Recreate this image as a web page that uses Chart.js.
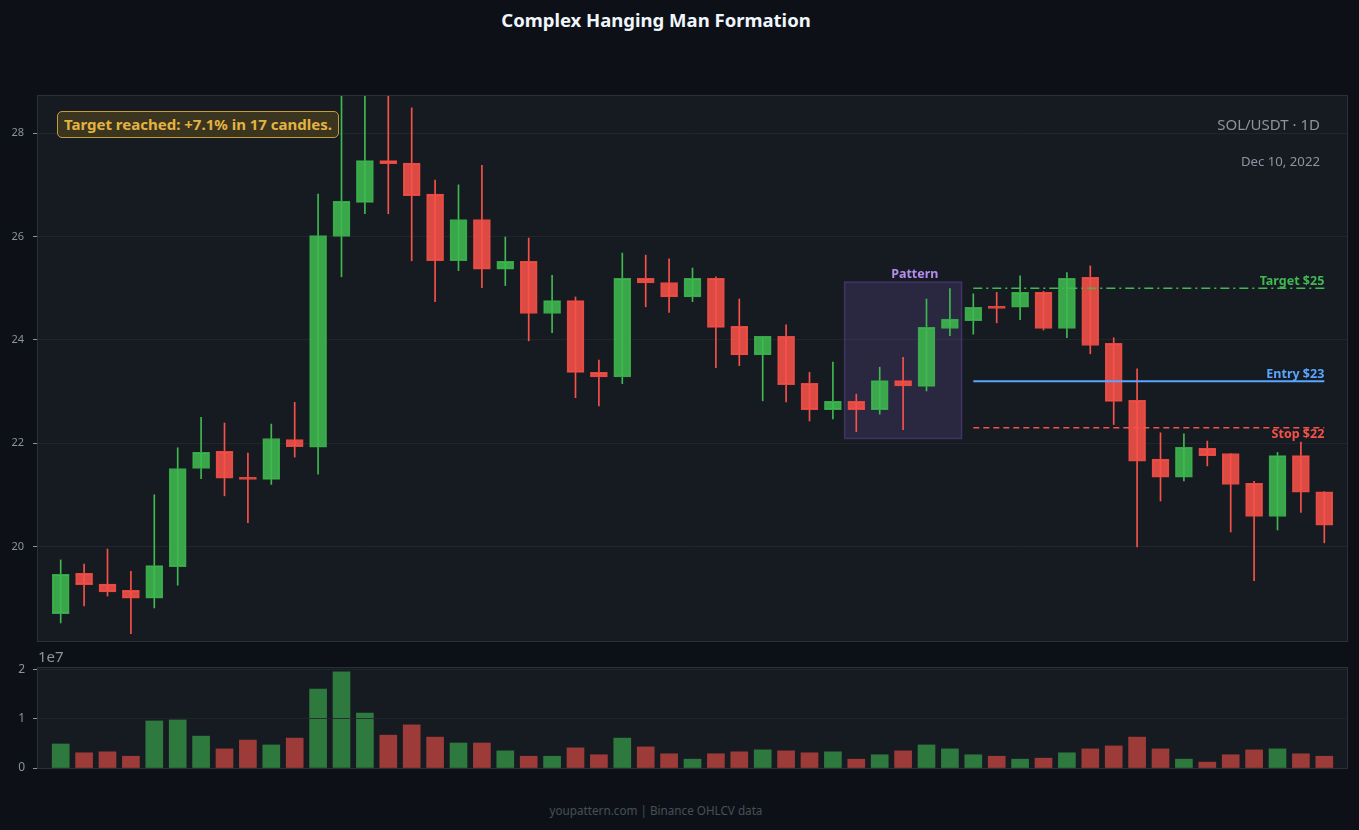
<!DOCTYPE html>
<html>
<head>
<meta charset="utf-8">
<title>Complex Hanging Man Formation</title>
<script src="https://cdn.jsdelivr.net/npm/chart.js@4.4.1/dist/chart.umd.min.js"></script>
<style>
    html, body { margin: 0; padding: 0; background: #0d1117; }
    body { width: 1359px; height: 830px; position: relative; overflow: hidden; font-family: "Noto Sans", sans-serif; }
    .abs { position: absolute; white-space: nowrap; }
    #title { left: 0; width: 1312px; top: 7px; line-height: 26px; text-align: center; color: #f0f6fc; font-weight: bold; font-size: 18.5px; }
    #priceWrap { left: 0; top: 90px; width: 1359px; height: 560px; }
    #volWrap { left: 0; top: 660px; width: 1359px; height: 115px; }
    #reached { left: 57px; top: 111px; width: 282px; height: 27px; box-sizing: border-box; border: 1.5px solid #c29d3c; border-radius: 5px; background: #3b3520; color: #e3b341; font-weight: bold; font-size: 15px; line-height: 24px; text-align: center; }
    #pair { right: 39px; top: 113px; line-height: 22px; font-size: 15px; color: #8b949e; }
    #date { right: 39px; top: 151px; line-height: 20px; font-size: 13.2px; color: #8b949e; }
    #exp { left: 38px; top: 645px; line-height: 22px; font-size: 15px; color: #8b949e; }
    #footer { left: 0; width: 1312px; top: 801px; line-height: 18px; text-align: center; font-size: 11.7px; color: #484f58; }
</style>
</head>
<body>
<div id="title" class="abs">Complex Hanging Man Formation</div>
<div id="priceWrap" class="abs"><canvas id="priceChart"></canvas></div>
<div id="volWrap" class="abs"><canvas id="volChart"></canvas></div>
<div id="reached" class="abs">Target reached: +7.1% in 17 candles.</div>
<div id="pair" class="abs">SOL/USDT · 1D</div>
<div id="date" class="abs">Dec 10, 2022</div>
<div id="exp" class="abs">1e7</div>
<div id="footer" class="abs">youpattern.com | Binance OHLCV data</div>

<script>
// OHLCV per daily candle (index 0..54)
const opens = [18.70, 19.48, 19.27, 19.15, 19.00, 19.61, 21.51, 21.84, 21.34, 21.30,
    22.07, 21.92, 26.00, 26.66, 27.47, 27.42, 26.82, 25.53, 26.33, 25.37,
    25.52, 24.51, 24.76, 23.37, 23.28, 25.19, 25.11, 24.83, 25.19, 24.26,
    23.71, 24.07, 23.16, 22.65, 22.81, 22.65, 23.21, 23.10, 24.22, 24.37,
    24.65, 24.63, 24.92, 24.22, 25.21, 23.93, 22.83, 21.69, 21.34, 21.90,
    21.80, 21.22, 20.58, 21.76, 21.06];
const highs = [19.74, 19.66, 19.95, 19.52, 21.00, 21.91, 22.50, 22.39, 21.81, 22.37,
    22.79, 26.82, 29.00, 28.90, 29.10, 28.49, 27.09, 27.00, 27.38, 25.99,
    25.97, 25.25, 24.83, 23.61, 25.68, 25.64, 25.57, 25.39, 25.22, 24.79,
    24.07, 24.29, 23.37, 23.57, 22.95, 23.47, 23.66, 24.79, 24.99, 24.89,
    24.92, 25.24, 24.94, 25.30, 25.43, 24.04, 23.44, 22.20, 22.18, 22.04,
    21.80, 21.26, 21.82, 22.02, 21.06];
const lows = [18.52, 18.85, 19.04, 18.31, 18.81, 19.25, 21.31, 20.98, 20.46, 21.20,
    21.73, 21.40, 25.22, 26.44, 26.44, 25.53, 24.74, 25.34, 25.01, 25.05,
    23.98, 24.14, 22.88, 22.72, 23.15, 24.64, 24.53, 24.74, 23.46, 23.50,
    22.82, 22.80, 22.43, 22.47, 22.22, 22.56, 22.26, 23.01, 24.08, 24.11,
    24.33, 24.39, 24.19, 24.04, 23.73, 22.36, 19.99, 20.88, 21.27, 21.56,
    20.28, 19.34, 20.32, 20.66, 20.07];
const closes = [19.46, 19.26, 19.12, 19.00, 19.63, 21.51, 21.82, 21.32, 21.30, 22.09,
    21.93, 26.02, 26.68, 27.47, 27.41, 26.79, 25.53, 26.33, 25.37, 25.52,
    24.51, 24.76, 23.37, 23.28, 25.19, 25.10, 24.83, 25.19, 24.24, 23.71,
    24.07, 23.13, 22.65, 22.81, 22.65, 23.21, 23.11, 24.24, 24.40, 24.63,
    24.61, 24.92, 24.22, 25.19, 23.89, 22.81, 21.65, 21.34, 21.92, 21.76,
    21.20, 20.58, 21.76, 21.05, 20.41];
const volumes = [4.9e6, 3.1e6, 3.3e6, 2.4e6, 9.6e6, 9.8e6, 6.5e6, 3.9e6, 5.7e6, 4.7e6,
    6.1e6, 16.1e6, 19.6e6, 11.2e6, 6.7e6, 8.8e6, 6.3e6, 5.1e6, 5.1e6, 3.5e6,
    2.4e6, 2.4e6, 4.1e6, 2.7e6, 6.1e6, 4.3e6, 2.9e6, 1.8e6, 2.9e6, 3.3e6,
    3.7e6, 3.5e6, 3.1e6, 3.3e6, 1.8e6, 2.7e6, 3.5e6, 4.7e6, 3.9e6, 2.7e6,
    2.4e6, 1.8e6, 2.0e6, 3.1e6, 3.9e6, 4.5e6, 6.3e6, 3.9e6, 1.8e6, 1.2e6,
    2.7e6, 3.7e6, 3.9e6, 2.9e6, 2.4e6];

const priceTicks = [20, 22, 24, 26, 28];
const volumeTicks = [0, 1e7, 2e7];

// trade levels drawn from candle 39 to the last candle
const levelLabels = ["Target $25", "Entry $23", "Stop $22"];
const levelValues = [25.0, 23.2, 22.3];
const levelFrom = 39;
const levelTo = 54;

// pattern zone (candles 34..38)
const patternX = [33.5, 38.5];
const patternY = [22.09, 25.12];

const GREEN = "#3fb950";
const RED = "#f85149";
const xMin = -0.97, xMax = 54.97;

function isUp(i) {
    return closes[i] >= opens[i];
}

function withAlpha(hex, a) {
    const n = parseInt(hex.slice(1), 16);
    return "rgba(" + (n >> 16) + "," + ((n >> 8) & 255) + "," + (n & 255) + "," + a + ")";
}

// keep the plot area exactly where the layout padding puts it
function fixAxis(width) {
    return s => {
        s.width = width;
        s.paddingTop = 0;
        s.paddingBottom = 0;
    };
}

const plotFrame = {
    id: "plotFrame",
    beforeDraw(chart) {
        const { ctx, chartArea: a } = chart;
        ctx.save();
        ctx.fillStyle = "#161b22";
        ctx.fillRect(a.left, a.top, a.right - a.left, a.bottom - a.top);
        ctx.restore();
    },
    afterDraw(chart) {
        const { ctx, chartArea: a } = chart;
        ctx.save();
        ctx.strokeStyle = "#2a3038";
        ctx.lineWidth = 1;
        ctx.strokeRect(a.left - 0.5, a.top - 0.5, a.right - a.left + 1, a.bottom - a.top + 1);
        ctx.restore();
    }
};

const patternZone = {
    id: "patternZone",
    beforeDatasetsDraw(chart) {
        const { ctx, scales: { x, y } } = chart;
        const x0 = x.getPixelForValue(patternX[0]), x1 = x.getPixelForValue(patternX[1]);
        const y0 = y.getPixelForValue(patternY[1]), y1 = y.getPixelForValue(patternY[0]);
        ctx.save();
        ctx.fillStyle = "rgba(163,113,247,0.15)";
        ctx.fillRect(x0, y0, x1 - x0, y1 - y0);
        ctx.strokeStyle = "rgba(163,113,247,0.25)";
        ctx.lineWidth = 1.5;
        ctx.strokeRect(x0, y0, x1 - x0, y1 - y0);
        ctx.fillStyle = "#b48cf0";
        ctx.font = "bold 12.5px 'Noto Sans'";
        ctx.textAlign = "center";
        ctx.textBaseline = "alphabetic";
        ctx.fillText("Pattern", x0 + (x1 - x0) * 0.6, y0 - 4);
        ctx.restore();
    }
};

const levelTags = {
    id: "levelTags",
    afterDatasetsDraw(chart) {
        const { ctx, scales: { x, y } } = chart;
        const colors = [GREEN, "#58a6ff", RED];
        const shifts = [-3, -3, 10];
        ctx.save();
        ctx.font = "bold 12.5px 'Noto Sans'";
        ctx.textAlign = "right";
        ctx.textBaseline = "alphabetic";
        levelLabels.forEach((txt, k) => {
            ctx.fillStyle = colors[k];
            ctx.fillText(txt, x.getPixelForValue(levelTo), y.getPixelForValue(levelValues[k]) + shifts[k]);
        });
        ctx.restore();
    }
};

const levelStyles = [
    { color: GREEN, dash: [9, 4, 2, 4], width: 1.5 },
    { color: "#58a6ff", dash: [], width: 2 },
    { color: RED, dash: [6, 4], width: 1.5 }
];

const levelSets = levelValues.map((v, k) => ({
    type: "line",
    data: [{ x: levelFrom, y: v }, { x: levelTo, y: v }],
    borderColor: levelStyles[k].color,
    borderDash: levelStyles[k].dash,
    borderWidth: levelStyles[k].width,
    pointRadius: 0,
    order: 0
}));

new Chart(document.getElementById("priceChart"), {
    type: "bar",
    data: {
        datasets: [
            {
                data: opens.map((o, i) => ({ x: i, y: [lows[i], highs[i]] })),
                backgroundColor: ctx => isUp(ctx.dataIndex) ? GREEN : RED,
                barThickness: 1,
                grouped: false,
                order: 2
            },
            {
                data: opens.map((o, i) => ({ x: i, y: [o, closes[i]] })),
                backgroundColor: ctx => withAlpha(isUp(ctx.dataIndex) ? GREEN : RED, 0.88),
                borderColor: ctx => isUp(ctx.dataIndex) ? "#37a347" : "#e0483f",
                borderWidth: 1,
                borderSkipped: false,
                barThickness: 17,
                minBarLength: 2,
                grouped: false,
                order: 1
            },
            ...levelSets
        ]
    },
    options: {
        responsive: true,
        maintainAspectRatio: false,
        animation: false,
        layout: { padding: { top: 6, right: 12, bottom: 9, left: 0 } },
        plugins: { legend: { display: false }, tooltip: { enabled: false } },
        scales: {
            x: { type: "linear", min: xMin, max: xMax, offset: false, display: false },
            y: {
                min: 18.17,
                max: 28.72,
                afterFit: fixAxis(38),
                afterBuildTicks: s => { s.ticks = priceTicks.map(v => ({ value: v })); },
                border: { display: false },
                grid: { color: "rgba(48,54,61,0.4)", tickColor: "#8b949e", tickLength: 5 },
                ticks: { color: "#8b949e", padding: 9, font: { size: 11, family: "Noto Sans" } }
            }
        }
    },
    plugins: [plotFrame, patternZone, levelTags]
});

new Chart(document.getElementById("volChart"), {
    type: "bar",
    data: {
        datasets: [{
            data: volumes.map((v, i) => ({ x: i, y: v })),
            backgroundColor: ctx => withAlpha(isUp(ctx.dataIndex) ? GREEN : RED, 0.6),
            barThickness: 17
        }]
    },
    options: {
        responsive: true,
        maintainAspectRatio: false,
        animation: false,
        layout: { padding: { top: 8, right: 12, bottom: 7, left: 0 } },
        plugins: { legend: { display: false }, tooltip: { enabled: false } },
        scales: {
            x: { type: "linear", min: xMin, max: xMax, offset: false, display: false },
            y: {
                min: 0,
                max: 2.04e7,
                afterFit: fixAxis(38),
                afterBuildTicks: s => { s.ticks = volumeTicks.map(v => ({ value: v })); },
                border: { display: false },
                grid: { color: "rgba(33,38,45,0.85)", tickColor: "#8b949e", tickLength: 5, z: 1 },
                ticks: {
                    color: "#8b949e",
                    padding: 8,
                    font: { size: 12, family: "Noto Sans" },
                    callback: v => String(v / 1e7)
                }
            }
        }
    },
    plugins: [plotFrame]
});
</script>
</body>
</html>
